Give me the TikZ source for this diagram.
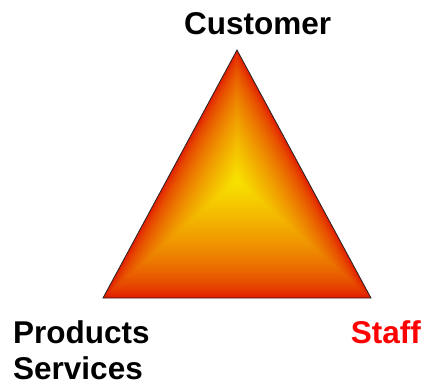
\documentclass[tikz,border=0pt]{standalone}
\usepackage{fontspec}
\setmainfont{Liberation Sans}
\definecolor{edgered}{RGB}{225,20,0}
\definecolor{centeryellow}{RGB}{248,228,0}
\definecolor{stafred}{RGB}{255,0,0}
\begin{document}
\begin{tikzpicture}[x=1pt,y=-1pt,
  lbl/.style={inner sep=0pt,font=\fontsize{31.5}{38}\selectfont\bfseries},
  outline/.style={draw=black!85,line width=0.8pt,line join=miter}]
\useasboundingbox (0,0) rectangle (426,385);
\coordinate (A) at (237,50);
\coordinate (B) at (103,298);
\coordinate (C) at (371,298);
\coordinate (O) at (237,180);
\foreach \i in {0,...,99}{
  \pgfmathsetmacro{\s}{1-\i/100}
  \pgfmathsetmacro{\p}{100*((1-\s)^0.62)}
  \pgfmathsetmacro{\ay}{180+\s*(50-180)}
  \pgfmathsetmacro{\bx}{237+\s*(103-237)}
  \pgfmathsetmacro{\by}{180+\s*(298-180)}
  \pgfmathsetmacro{\cx}{237+\s*(371-237)}
  \fill[centeryellow!\p!edgered] (237,\ay) -- (\bx,\by) -- (\cx,\by) -- cycle;
}
\draw[outline] (A) -- (B) -- (C) -- cycle;
\node[lbl,anchor=base west] (cust) at (184,35) {Customer};
\node[lbl,anchor=base west] (prod) at (13,343) {Products};
\node[lbl,anchor=base west] (serv) at (13,379) {Services};
\node[lbl,anchor=base east,text=stafred] (staff) at (421,343) {Staff};
\end{tikzpicture}
\end{document}
